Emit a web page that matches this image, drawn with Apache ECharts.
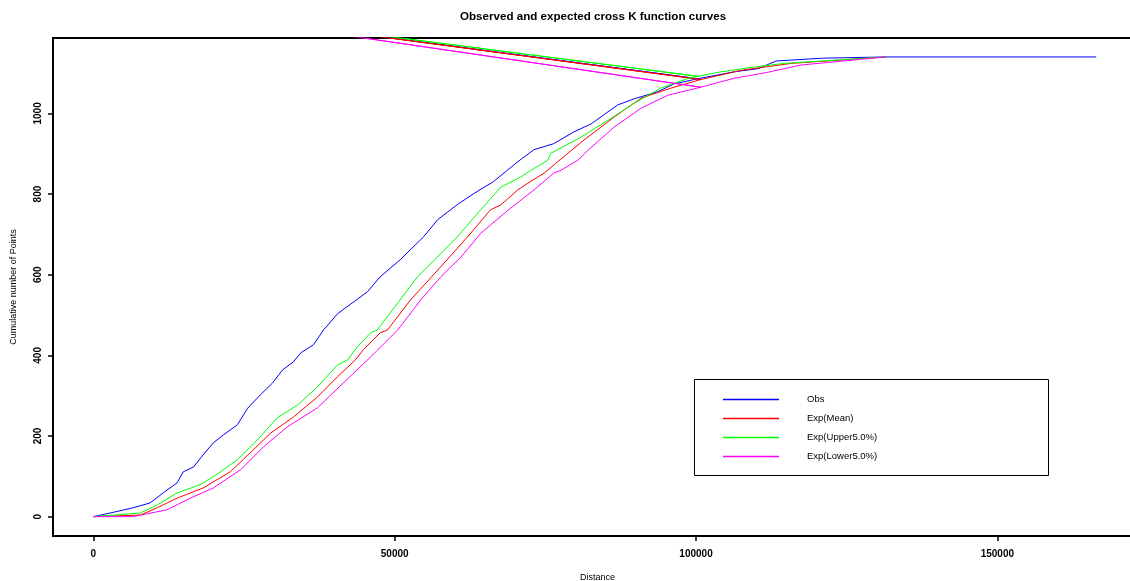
<!DOCTYPE html>
<html>
<head>
<meta charset="utf-8">
<script src="https://cdn.jsdelivr.net/npm/echarts@6/dist/echarts.min.js"></script>
<style>html,body{margin:0;padding:0;background:#fff}#c{width:1130px;height:581px}</style>
</head>
<body>
<div id="c"></div>
<script>
var seriesNames = ['Obs', 'Exp(Mean)', 'Exp(Upper5.0%)', 'Exp(Lower5.0%)'];
var xTicks = [0, 50000, 100000, 150000];
var yTicks = [0, 200, 400, 600, 800, 1000];

var obsX = [0,2800,6600,9400,11600,13900,14900,16600,18200,19900,21600,23900,25600,27700,29700,31400,33200,34400,36500,38200,40500,45500,47600,50900,54800,57100,60400,63100,66400,70400,73100,76400,79700,82600,85400,87000,89700,93700,96300,100300,0,100300,106300,110300,113300,121100,131500,166400];
var obsY = [0,9,22,34,59,84,111,123,153,183,203,228,269,302,331,364,384,406,426,463,503,558,595,637,694,736,774,801,831,880,910,925,954,974,1004,1021,1036,1054,1073,1086,1285,1086,1103,1111,1130,1137,1140,1140];

var meanX = [0,7800,10600,13900,18200,22700,26000,29400,33200,37200,40500,43500,44800,47600,48800,52600,57600,62100,65900,67600,70400,72100,74800,76700,81400,86400,90900,95900,100800,0,100800,107500,115800,131500];
var meanY = [0,4,22,46,71,111,158,207,247,297,347,389,414,456,463,537,619,694,761,773,810,827,852,876,934,991,1038,1063,1084,1285,1084,1107,1124,1140];

var upperX = [0,7800,10600,13900,17700,20600,23900,27200,30500,33900,37200,40500,42200,43800,46000,47100,50500,53800,57100,60400,63800,67600,70900,72100,75400,75900,80900,85400,89700,94200,98700,100300,0,100300,103700,109100,114600,131500];
var upperY = [0,9,29,59,79,106,141,190,245,277,322,376,389,421,456,463,530,595,644,694,753,817,842,854,884,901,941,983,1025,1063,1087,1092,1285,1092,1102,1114,1124,1140];

var lowerX = [0,6600,12200,16100,19900,24400,28200,32200,37200,41500,46000,50500,54300,57600,61000,64300,68800,73100,76400,77600,80400,82100,86400,90900,95300,100800,0,100800,106300,111900,117400,131500];
var lowerY = [0,0,17,46,71,116,173,223,270,332,396,463,537,594,644,703,760,810,852,859,884,909,966,1013,1045,1065,1285,1065,1087,1102,1120,1140];

function pairs(xs, ys) { return xs.map(function (x, i) { return [x, ys[i]]; }); }

var colors = ['#0000ff', '#ff0000', '#00ff00', '#ff00ff'];
var datasets = [pairs(obsX, obsY), pairs(meanX, meanY), pairs(upperX, upperY), pairs(lowerX, lowerY)];

var chart = echarts.init(document.getElementById('c'), null, {renderer: 'canvas'});
var font = 'Liberation Sans, Arial, sans-serif';
function plain(v) { return String(v); }
chart.setOption({
  animation: false,
  backgroundColor: '#fff',
  title: {
    text: 'Observed and expected cross K function curves',
    left: 460, top: 11, padding: 0,
    textStyle: {fontFamily: font, fontSize: 11.6, fontWeight: 'bold', color: '#000'}
  },
  grid: {
    left: 53, top: 38, right: -12, bottom: 45,
    show: true, borderColor: '#000', borderWidth: 2, backgroundColor: 'transparent',
    containLabel: false, outerBoundsMode: 'none'
  },
  legend: {
    orient: 'vertical',
    left: 723, top: 394, padding: 0,
    icon: 'rect',
    itemWidth: 56, itemHeight: 1.5,
    itemGap: 8,
    itemStyle: {borderWidth: 0},
    data: seriesNames,
    formatter: function (n) { return '{a|' + n + '}'; },
    textStyle: {
      fontFamily: font, fontSize: 9.5, color: '#000', lineHeight: 11,
      rich: {a: {fontFamily: font, fontSize: 9.5, color: '#000', padding: [0, 0, 0, 23], lineHeight: 11}}
    }
  },
  graphic: [{
    type: 'rect', left: 694, top: 379, z: 1,
    shape: {width: 354, height: 96},
    style: {fill: '#fff', stroke: '#000', lineWidth: 1}
  }],
  xAxis: {
    type: 'value', min: -6700, max: 174000,
    name: 'Distance', nameLocation: 'middle', nameGap: 37,
    nameTextStyle: {fontFamily: font, fontSize: 9, color: '#000'},
    axisLine: {show: false, onZero: false},
    splitLine: {show: false},
    axisTick: {show: true, length: 5, lineStyle: {color: '#000', width: 1.5}, customValues: xTicks},
    axisLabel: {customValues: xTicks, formatter: plain, margin: 13, fontFamily: font, fontSize: 10, fontWeight: 'bold', color: '#000'}
  },
  yAxis: {
    type: 'value', min: -48, max: 1187,
    name: 'Cumulative number of Points', nameLocation: 'middle', nameGap: 35, nameRotate: 90,
    nameTextStyle: {fontFamily: font, fontSize: 9, color: '#000'},
    axisLine: {show: false, onZero: false},
    splitLine: {show: false},
    axisTick: {show: true, length: 5, lineStyle: {color: '#000', width: 1.5}, customValues: yTicks},
    axisLabel: {customValues: yTicks, formatter: plain, rotate: 90, margin: 10, fontFamily: font, fontSize: 10, fontWeight: 'bold', color: '#000'}
  },
  series: seriesNames.map(function (n, i) {
    return {
      name: n, type: 'line', data: datasets[i], showSymbol: false, symbol: 'none',
      clip: true, z: 3,
      lineStyle: {color: colors[i], width: 1},
      itemStyle: {color: colors[i]}
    };
  })
});
</script>
</body>
</html>
